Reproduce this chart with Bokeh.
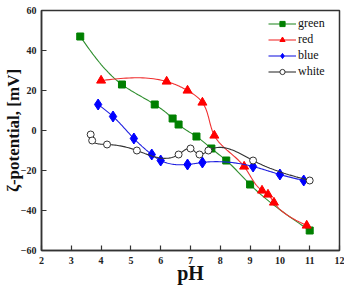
import numpy as np
from bokeh.plotting import figure
from bokeh.models import Legend, LegendItem, Range1d
from bokeh.embed import file_html
from bokeh.resources import INLINE

# zeta potential vs pH for four samples
green_ph = [3.3, 4.7, 5.8, 6.4, 6.6, 7.2, 7.7, 8.2, 9.0, 11.0]
green_zeta = [47, 23, 13, 6, 3, -3, -9, -15, -27, -50]

red_ph = [4.0, 6.2, 6.9, 7.4, 7.8, 8.8, 9.4, 9.6, 9.8, 10.9]
red_zeta = [25, 24.5, 20, 14, -2.5, -18, -30, -32, -36, -47.5]

blue_ph = [3.9, 4.4, 5.1, 5.7, 6.0, 6.9, 7.4, 9.1, 10.0, 10.8]
blue_zeta = [13, 7, -4, -12, -15, -17, -16, -18, -22, -25]

white_ph = [3.65, 3.7, 4.2, 5.2, 6.6, 7.0, 7.3, 7.6, 9.1, 11.0]
white_zeta = [-2, -5, -7, -10, -12, -9, -12, -10, -15, -25]

x_ticks = [2, 3, 4, 5, 6, 7, 8, 9, 10, 11, 12]
y_ticks = [-60, -40, -20, 0, 20, 40, 60]

SERIF = "'Liberation Serif'"
AXIS_COLOR = "#333333"


def _natural(t, v):
    n = len(t)
    h = np.diff(t)
    A = np.zeros((n, n))
    b = np.zeros(n)
    A[0, 0] = 1.0
    A[-1, -1] = 1.0
    for i in range(1, n - 1):
        A[i, i - 1] = h[i - 1]
        A[i, i] = 2 * (h[i - 1] + h[i])
        A[i, i + 1] = h[i]
        b[i] = 3 * ((v[i + 1] - v[i]) / h[i] - (v[i] - v[i - 1]) / h[i - 1])
    c = np.linalg.solve(A, b)
    return h, c


def smooth(xs, ys, steps=24, sx=29.7, sy=2.0):
    """Parametric natural cubic spline through the points (chord-length)."""
    x = np.asarray(xs, float)
    y = np.asarray(ys, float)
    px, py = x * sx, y * sy
    d = np.hypot(np.diff(px), np.diff(py))
    t = np.concatenate([[0], np.cumsum(d)])
    out = []
    for v in (px, py):
        h, c = _natural(t, v)
        seg = []
        for i in range(len(t) - 1):
            a = v[i]
            bb = (v[i + 1] - v[i]) / h[i] - h[i] * (2 * c[i] + c[i + 1]) / 3
            dd = (c[i + 1] - c[i]) / (3 * h[i])
            s = np.linspace(0, h[i], steps, endpoint=False)
            seg.append(a + bb * s + c[i] * s ** 2 + dd * s ** 3)
        seg.append([v[-1]])
        out.append(np.concatenate(seg))
    return out[0] / sx, out[1] / sy


p = figure(width=344, height=286, output_backend="svg", toolbar_location=None,
           x_range=Range1d(2, 12), y_range=Range1d(-60, 60),
           min_border_left=0, min_border_right=5, min_border_top=10,
           min_border_bottom=0)
p.xgrid.visible = False
p.ygrid.visible = False
p.outline_line_color = AXIS_COLOR
p.outline_line_width = 1.5
p.background_fill_color = "white"

for ax in (p.xaxis[0], p.yaxis[0]):
    ax.axis_line_color = AXIS_COLOR
    ax.axis_line_width = 1.5
    ax.major_tick_line_color = AXIS_COLOR
    ax.major_tick_line_width = 1.2
    ax.major_tick_in = 5
    ax.major_tick_out = 0
    ax.minor_tick_line_color = None
    ax.major_label_text_font = SERIF
    ax.major_label_text_font_style = "bold"
    ax.major_label_text_font_size = "10px"
    ax.major_label_text_color = "#222222"
    ax.axis_label_text_font = SERIF
    ax.axis_label_text_font_style = "bold"
    ax.axis_label_text_color = "#111111"

p.xaxis.ticker = x_ticks
p.yaxis.ticker = y_ticks
p.xaxis.major_label_standoff = 6
p.yaxis.major_label_standoff = 5
p.xaxis.axis_label = "pH"
p.xaxis.axis_label_text_font_size = "20px"
p.xaxis.axis_label_standoff = -5
p.yaxis.axis_label = "ζ-potential, [mV]"
p.yaxis.axis_label_text_font_size = "17px"
p.yaxis.axis_label_standoff = -5

series = [
    ("green", green_ph, green_zeta, "#008000", "#2f8f2f", "square", 7, "#008000"),
    ("red", red_ph, red_zeta, "#ff0000", "#f03030", "triangle", 9, "#ff0000"),
    ("blue", blue_ph, blue_zeta, "#0000ff", "#2020e0", "diamond", 11, "#0000ff"),
    ("white", white_ph, white_zeta, "#333333", "#333333", "circle", 7, "white"),
]

items = []
for name, xs, ys, mcol, lcol, marker, size, fill in series:
    sxv, syv = smooth(xs, ys)
    ln = p.line(sxv, syv, line_color=lcol, line_width=1.1)
    mk = p.scatter(xs, ys, marker=marker, size=size, fill_color=fill,
                   line_color=mcol, line_width=1)
    items.append(LegendItem(label=name, renderers=[ln, mk]))

legend = Legend(items=items, location=(227, 171))
legend.label_text_font = SERIF
legend.label_text_font_size = "12px"
legend.label_text_color = "#111111"
legend.glyph_width = 28
legend.glyph_height = 13
legend.label_height = 13
legend.label_standoff = 2
legend.spacing = 1
legend.padding = 2
legend.margin = 0
legend.border_line_color = None
legend.background_fill_alpha = 0
p.add_layout(legend)

open("out.html", "w").write(file_html(p, INLINE))
